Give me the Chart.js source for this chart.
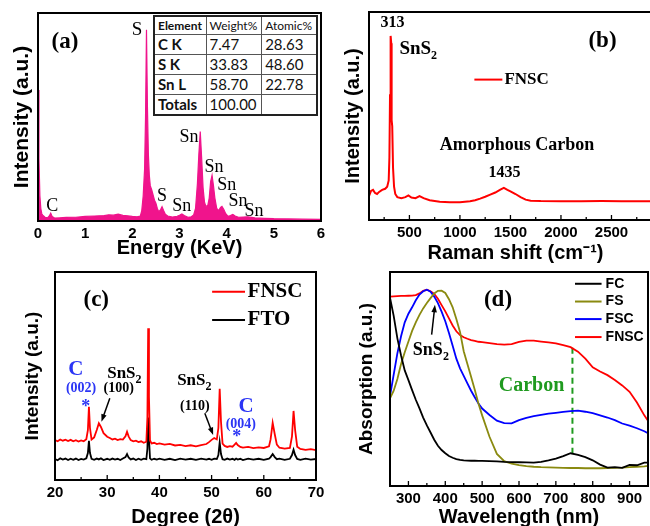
<!DOCTYPE html>
<html>
<head>
<meta charset="utf-8">
<script src="https://cdn.jsdelivr.net/npm/chart.js@4.4.1/dist/chart.umd.min.js"></script>
<style>
  body { margin: 0; background: #fff; }
  #fig { position: relative; width: 650px; height: 526px; overflow: hidden; background: #fff; }
  #fig canvas { position: absolute; }
  #edsTable {
    position: absolute; left: 153px; top: 15px; width: 165px; height: 101px;
    border-collapse: collapse; border: 2px solid #222; background: #fff;
    font-family: Lato, "Liberation Sans", sans-serif; color: #111;
  }
  #edsTable td { border: 1px solid #555; padding: 0 0 0 3px; font-size: 15px; line-height: 1; }
  #edsTable tr.head td { font-size: 12px; height: 17px; }
  #edsTable td.name { font-weight: bold; }
</style>
</head>
<body>
<div id="fig">
  <canvas id="chartA"></canvas>
  <canvas id="chartB"></canvas>
  <canvas id="chartC"></canvas>
  <canvas id="chartD"></canvas>
  <table id="edsTable"></table>
</div>
<script>
// ---- (a) EDS spectrum ----
const energyKeV = [0, 0.02, 0.04, 0.06, 0.08, 0.1, 0.15, 0.2, 0.24, 0.27, 0.3, 0.35, 0.45, 0.6, 0.8, 1.0, 1.2, 1.4, 1.5, 1.6,
  1.7, 1.8, 1.9, 2.0, 2.1, 2.17, 2.2, 2.23, 2.26, 2.28, 2.3, 2.32, 2.34, 2.36, 2.38, 2.41, 2.44, 2.47, 2.5, 2.53,
  2.56, 2.6, 2.63, 2.66, 2.7, 2.75, 2.85, 2.95, 3.0, 3.05, 3.1, 3.18, 3.25, 3.3, 3.34, 3.38, 3.41, 3.44, 3.47, 3.5,
  3.53, 3.56, 3.6, 3.63, 3.66, 3.69, 3.72, 3.75, 3.79, 3.83, 3.87, 3.9, 3.94, 3.98, 4.03, 4.08, 4.13, 4.18, 4.25, 4.35,
  4.45, 4.6, 4.8, 5.0, 5.3, 5.6, 6.0];
const edsCounts = [63, 30, 12, 6, 3.5, 2.8, 1.8, 1.5, 2.4, 3.8, 2.2, 1.4, 1.5, 1.7, 1.8, 2.2, 2.4, 2.6, 3.0, 2.8,
  3.3, 2.7, 2.5, 2.2, 2.0, 2.4, 5, 12, 25, 50, 92, 55, 32, 22, 17, 15, 12.5, 10, 8.5, 6,
  4.5, 5.5, 6.9, 5.2, 3.2, 2.4, 1.9, 2.3, 2.8, 3.4, 2.6, 1.8, 2.0, 2.9, 6, 18, 32, 43, 30, 16,
  9, 7, 7.5, 11, 19, 22, 17, 11, 6, 5, 6.5, 7, 5.5, 3.5, 2.2, 2.6, 3.2, 2.4, 1.8, 1.9,
  2.0, 1.5, 1.3, 1.1, 1.0, 0.9, 0.8];
const energyTicks = [0, 1, 2, 3, 4, 5, 6];

const tableHeader = ['Element', 'Weight%', 'Atomic%'];
const elements = ['C K', 'S K', 'Sn L', 'Totals'];
const weightPct = ['7.47', '33.83', '58.70', '100.00'];
const atomicPct = ['28.63', '48.60', '22.78', ''];

// ---- (b) Raman ----
const ramanShift = [100, 120, 140, 160, 180, 200, 230, 260, 280, 295, 302, 308, 312, 316, 320, 324, 330, 338, 348, 360,
  380, 420, 460, 490, 520, 560, 600, 640, 700, 800, 900, 1000, 1100, 1150, 1200, 1250, 1300, 1350, 1400, 1435,
  1470, 1500, 1550, 1600, 1650, 1700, 1800, 2000, 2200, 2400, 2600, 2800, 3000];
const ramanFNSC = [11.5, 14, 14.5, 13, 12.5, 13.5, 14.5, 15, 16, 19, 30, 60, 80, 88.5, 85, 48, 45, 25, 16, 12.5,
  11, 10.5, 11, 11.8, 10.8, 10.5, 11.5, 10.5, 9.5, 8.8, 8.5, 8.5, 9, 9.5, 10.3, 11.2, 12.2, 13.2, 14.6, 15.4,
  14.5, 13.8, 12.5, 11, 9.8, 9.3, 9.1, 9, 9, 9.1, 9, 9, 9];
const ramanTicks = [500, 1000, 1500, 2000, 2500];
const ramanMinor = [250, 750, 1250, 1750, 2250, 2750];

// ---- (c) XRD ----
const twoTheta = [20, 20.5, 21, 21.5, 22, 22.5, 23, 23.5, 24, 24.5, 25, 25.5, 26, 26.3, 26.5, 26.7, 27, 27.5, 28, 28.4,
  28.8, 29.3, 30, 30.5, 31, 31.5, 32, 32.5, 33, 33.5, 33.8, 34.1, 34.5, 35, 35.5, 36, 36.5, 37, 37.5, 37.7,
  37.85, 38, 38.2, 38.5, 39, 39.5, 40, 41, 42, 43, 44, 45, 46, 47, 48, 49, 49.5, 50, 50.5, 51,
  51.3, 51.55, 51.8, 52.1, 52.5, 53, 53.5, 54, 54.4, 54.7, 55, 55.5, 56, 57, 58, 59, 60, 61, 61.3, 61.7,
  62.1, 62.5, 63, 64, 65, 65.4, 65.7, 66, 66.4, 67, 68, 69, 70];
const xrdFNSC = [19.2, 18.6, 19.5, 18.9, 19.4, 18.7, 19.3, 18.6, 19.1, 18.5, 19.0, 18.6, 19.6, 24, 35.2, 25, 19.5, 20.5, 24, 27.3,
  25.5, 22.5, 20.8, 20.2, 19.5, 19.9, 19.2, 19.6, 19.4, 21, 23.2, 21, 19.2, 18.6, 18.9, 18.2, 18.6, 17.9, 18.4, 30,
  73, 40, 19, 17.6, 17.9, 17.3, 17.6, 17.0, 17.4, 16.6, 16.9, 16.3, 16.7, 16.2, 16.8, 17.3, 18.2, 19.3, 20.2, 19.5,
  25, 43.8, 28, 17.5, 16.4, 15.9, 16.3, 16.0, 17.0, 17.8, 16.8, 15.9, 15.6, 15.9, 15.3, 15.7, 15.4, 16.2, 19.5, 27.5,
  22, 17, 15.5, 15.1, 15.4, 21, 33.2, 24, 16, 14.9, 14.5, 14.8, 14.4];
const xrdFTO = [10.1, 9.5, 10.4, 9.8, 10.3, 9.6, 10.2, 9.7, 10.3, 9.6, 10.1, 9.8, 10.4, 13, 18.8, 13, 10.2, 9.7, 10.3, 9.9,
  10.4, 9.6, 10.2, 9.7, 10.3, 9.8, 10.2, 9.6, 10.3, 11, 12.5, 10.8, 9.9, 10.3, 9.6, 10.2, 9.7, 10.3, 10.0, 15,
  30, 20, 10.4, 9.7, 10.2, 9.8, 10.3, 9.7, 10.2, 9.6, 10.3, 9.8, 10.2, 9.7, 10.3, 9.8, 10.2, 9.7, 10.3, 10.1,
  12, 18, 12.5, 10, 9.7, 10.3, 9.8, 10.2, 9.7, 10.3, 9.8, 10.2, 9.6, 10.3, 9.8, 10.2, 9.7, 10.3, 11, 12.5,
  11, 10, 10.3, 9.7, 10.2, 12, 14.6, 12, 10.1, 9.7, 10.3, 9.8, 10.1];
const xrdTicks = [20, 30, 40, 50, 60, 70];
const xrdMajor = [30, 40, 50, 60];
const xrdMinor = [25, 35, 45, 55, 65];

// ---- (d) UV-vis absorption ----
const wavelength = [250, 260, 270, 280, 290, 300, 310, 320, 330, 340, 350, 360, 370, 380, 390, 400, 410, 420, 430, 440,
  450, 460, 470, 480, 490, 500, 520, 540, 560, 580, 600, 620, 640, 660, 680, 700, 720, 740, 760, 780,
  800, 820, 840, 860, 880, 900, 920, 940, 950];
const absFC = [88, 79.5, 69, 61, 54, 49.5, 44.8, 40.3, 36.3, 32, 28.3, 25, 21.6, 18.8, 16.8, 15.3, 14, 13.2, 12.6, 12.2,
  12, 11.9, 11.8, 11.8, 11.7, 11.7, 11.6, 11.5, 11.3, 11.2, 11.1, 11, 10.9, 11.3, 12, 12.8, 14, 15.3, 14.5, 13.5,
  12, 10, 8.6, 8.8, 8.5, 9.8, 9.7, 10.9, 10.9];
const absFS = [41, 44.5, 50, 57, 62.5, 67.5, 72.5, 76.5, 80, 83, 85.5, 87.8, 90, 91.2, 91.3, 90.2, 87.3, 83.5, 78, 72,
  63, 57, 51, 45, 38.5, 33, 23, 15, 11.6, 10.4, 9.8, 9.3, 9, 8.8, 8.7, 8.6, 8.5, 8.4, 8.4, 8.3,
  8.3, 8.3, 8.4, 8.5, 8.6, 8.8, 9, 9.2, 9.4];
const absFSC = [42, 52, 62, 70, 76.5, 80.5, 83.5, 86.8, 89.5, 91, 91.7, 90.8, 88.5, 85.5, 81.5, 77, 71.5, 65.5, 59.5, 55,
  51.5, 48, 44.5, 41.5, 38.5, 36.2, 33.2, 30.5, 29.4, 29.3, 30.8, 31.8, 32.6, 33.2, 33.8, 34.2, 34.6, 35, 35.2, 34.7,
  34, 33, 32, 30.8, 29.2, 28.2, 27, 25.6, 24.7];
const absFNSC = [88.5, 88.6, 88.7, 88.8, 88.8, 88.9, 89, 89.2, 90, 91.2, 91.7, 91, 89.8, 87.5, 84.5, 81.6, 78.3, 75, 72.3, 70.5,
  69.5, 68.8, 68.2, 67.8, 67.4, 67.2, 66.8, 66.3, 66.1, 66.3, 67.3, 67.9, 67.9, 67.5, 67.1, 66.6, 65.8, 64.9, 62.8, 59.5,
  55.5, 53.5, 51.8, 49.5, 47, 44, 39, 33, 30.5];
const carbonMarkX = [745, 745];
const carbonMarkY = [64.6, 13.7];
const wlTicks = [300, 400, 500, 600, 700, 800, 900];
const wlMinor = [350, 450, 550, 650, 750, 850];

// ---------------------------------------------------------------
const sans = 'Liberation Sans', serif = 'Liberation Serif';
const tb = s => `bold ${s}px "${serif}"`;
const tn = s => `${s}px "${serif}"`;
const ab = s => `bold ${s}px "${sans}"`;

// EDS table from the arrays
const tbl = document.getElementById('edsTable');
let html = '<tr class="head">' + tableHeader.map((h, i) => `<td${i === 0 ? ' class="name"' : ''}>${h}</td>`).join('') + '</tr>';
elements.forEach((el, i) => {
  html += `<tr><td class="name">${el}</td><td>${weightPct[i]}</td><td>${atomicPct[i]}</td></tr>`;
});
tbl.innerHTML = html;

function series(label, xs, ys, color, width, extra) {
  return Object.assign({
    label, data: xs.map((x, i) => ({ x, y: ys[i] })),
    borderColor: color, backgroundColor: color, borderWidth: width,
    pointRadius: 0, tension: 0, fill: false
  }, extra || {});
}

function xAxis(min, max, tickVals, title, height, size) {
  return {
    type: 'linear', min, max,
    afterBuildTicks: s => { s.ticks = tickVals.map(v => ({ value: v })); },
    afterFit: s => { s.height = height; },
    grid: { display: false, drawTicks: false },
    border: { display: false },
    ticks: { color: '#000', padding: 4, maxRotation: 0, autoSkip: false,
             font: { family: sans, size: 15, weight: 'bold' }, callback: v => String(v) },
    title: { display: true, text: title, color: '#000', padding: 0,
             font: { family: sans, size, weight: 'bold' } }
  };
}

function yAxis(title, width, pad, size) {
  return {
    type: 'linear', min: 0, max: 100,
    afterFit: s => { s.width = width; },
    grid: { display: false, drawTicks: false },
    border: { display: false },
    ticks: { display: false },
    title: { display: true, text: title, color: '#000', padding: { top: pad, bottom: 0 },
             font: { family: sans, size, weight: 'bold' } }
  };
}

function drawLabel(ctx, px, py, a) {
  ctx.font = a.font;
  ctx.fillStyle = a.color || '#000';
  ctx.textBaseline = 'middle';
  ctx.textAlign = 'left';
  const mainW = ctx.measureText(a.text).width;
  let subW = 0;
  const subSize = a.subSize || 12;
  if (a.sub) {
    ctx.font = a.font.replace(/\d+px/, subSize + 'px');
    subW = ctx.measureText(a.sub).width;
    ctx.font = a.font;
  }
  const left = a.align === 'left' ? px : px - (mainW + subW) / 2;
  ctx.fillText(a.text, left, py);
  if (a.sub) {
    ctx.font = a.font.replace(/\d+px/, subSize + 'px');
    ctx.fillText(a.sub, left + mainW, py + subSize * 0.55);
  }
}

// frame, inward ticks, arrows, legend and labels
function deco(spec) {
  return {
    id: 'deco',
    afterDatasetsDraw(chart) {
      const { ctx, chartArea: a, scales: { x, y } } = chart;
      ctx.save();
      ctx.strokeStyle = '#000';
      ctx.lineWidth = 1.3;
      const tick = (v, len) => {
        const px = x.getPixelForValue(v);
        ctx.beginPath(); ctx.moveTo(px, a.bottom); ctx.lineTo(px, a.bottom - len); ctx.stroke();
      };
      (spec.major || []).forEach(v => tick(v, 5));
      (spec.minor || []).forEach(v => tick(v, 3));
      ctx.lineWidth = 2;
      ctx.strokeRect(a.left, a.top, a.right - a.left, a.bottom - a.top);

      (spec.arrows || []).forEach(ar => {
        const x1 = x.getPixelForValue(ar.from[0]), y1 = y.getPixelForValue(ar.from[1]);
        const x2 = x.getPixelForValue(ar.to[0]), y2 = y.getPixelForValue(ar.to[1]);
        const ang = Math.atan2(y2 - y1, x2 - x1);
        ctx.strokeStyle = '#000'; ctx.fillStyle = '#000'; ctx.lineWidth = 1.5;
        ctx.beginPath(); ctx.moveTo(x1, y1);
        ctx.lineTo(x2 - 5 * Math.cos(ang), y2 - 5 * Math.sin(ang)); ctx.stroke();
        ctx.beginPath();
        ctx.moveTo(x2, y2);
        ctx.lineTo(x2 - 8 * Math.cos(ang - 0.35), y2 - 8 * Math.sin(ang - 0.35));
        ctx.lineTo(x2 - 8 * Math.cos(ang + 0.35), y2 - 8 * Math.sin(ang + 0.35));
        ctx.closePath(); ctx.fill();
      });

      if (spec.legend) {
        const lg = spec.legend;
        lg.items.forEach((di, k) => {
          const ds = chart.data.datasets[di];
          const py = y.getPixelForValue(lg.ys[k]);
          ctx.strokeStyle = ds.borderColor; ctx.lineWidth = lg.lineWidth || 2;
          ctx.beginPath();
          ctx.moveTo(x.getPixelForValue(lg.x0), py); ctx.lineTo(x.getPixelForValue(lg.x1), py);
          ctx.stroke();
          drawLabel(ctx, x.getPixelForValue(lg.xt), py, { text: ds.label, font: lg.font, align: 'left' });
        });
      }

      (spec.labels || []).forEach(l => drawLabel(ctx, x.getPixelForValue(l.x), y.getPixelForValue(l.y), l));
      ctx.restore();
    }
  };
}

function makeChart(id, box, pad, datasets, scales, spec) {
  const cv = document.getElementById(id);
  cv.width = box[2]; cv.height = box[3];
  Object.assign(cv.style, { left: box[0] + 'px', top: box[1] + 'px', width: box[2] + 'px', height: box[3] + 'px' });
  return new Chart(cv.getContext('2d'), {
    type: 'line',
    data: { datasets },
    options: {
      responsive: false, animation: false, events: [],
      layout: { padding: { left: 0, top: pad[0], right: pad[1], bottom: 0 } },
      plugins: { legend: { display: false }, tooltip: { enabled: false } },
      scales
    },
    plugins: [deco(spec)]
  });
}

const pink = '#f0148c', red = '#ff0000', blue = '#0000ff', olive = '#8a8a10', green = '#1f9a1f', cBlue = '#2b35f5';

// (a)
makeChart('chartA', [0, 0, 330, 260], [13, 9],
  [series('EDS', energyKeV, edsCounts, pink, 1.2, { fill: 'origin' })],
  { x: xAxis(0, 6, energyTicks, 'Energy (KeV)', 39, 20), y: yAxis('Intensity (a.u.)', 38, 10, 21) },
  { labels: [
    { text: '(a)', x: 0.57, y: 86, font: tb(23) },
    { text: 'S', x: 2.10, y: 91.8, font: tn(19) },
    { text: 'C', x: 0.30, y: 7.2, font: tn(18) },
    { text: 'S', x: 2.63, y: 12, font: tn(18) },
    { text: 'Sn', x: 3.05, y: 7.2, font: tn(18) },
    { text: 'Sn', x: 3.2, y: 40.4, font: tn(18) },
    { text: 'Sn', x: 3.73, y: 26, font: tn(18) },
    { text: 'Sn', x: 4.0, y: 17.3, font: tn(18) },
    { text: 'Sn', x: 4.24, y: 9.6, font: tn(18) },
    { text: 'Sn', x: 4.58, y: 4.8, font: tn(18) }
  ] });

// (b)
makeChart('chartB', [325, 0, 345, 265], [12, 8],
  [series('FNSC', ramanShift, ramanFNSC, red, 2)],
  { x: xAxis(100, 3000, ramanTicks, 'Raman shift (cm\u207B\u00B9)', 45, 20), y: yAxis('Intensity (a.u.)', 44, 16, 20) },
  { major: ramanTicks, minor: ramanMinor,
    legend: { items: [0], x0: 1143, x1: 1420, xt: 1440, ys: [67.5], font: tb(17) },
    labels: [
      { text: '313', x: 332, y: 95, font: tb(16) },
      { text: 'SnS', sub: '2', subSize: 12, x: 401, y: 82, font: tb(19), align: 'left' },
      { text: 'Amorphous Carbon', x: 1564, y: 35.8, font: tb(18) },
      { text: '1435', x: 1440, y: 22.5, font: tb(16) },
      { text: '(b)', x: 2411, y: 86, font: tb(23) }
    ] });

// (c)
makeChart('chartC', [0, 262, 330, 267], [10, 14],
  [series('FNSC', twoTheta, xrdFNSC, red, 1.8), series('FTO', twoTheta, xrdFTO, '#000', 1.8)],
  { x: xAxis(20, 70, xrdTicks, 'Degree (2\u03B8)', 49, 20), y: yAxis('Intensity (a.u.)', 55, 21, 19) },
  { major: xrdMajor, minor: xrdMinor,
    legend: { items: [0, 1], x0: 50.1, x1: 56.4, xt: 56.9, ys: [90.5, 76.9], font: tb(21) },
    arrows: [ { from: [30.5, 39.3], to: [28.9, 28.0] }, { from: [48.7, 32.1], to: [50.3, 21.6] } ],
    labels: [
      { text: '(c)', x: 27.9, y: 86.5, font: tb(23) },
      { text: 'C', x: 24.0, y: 52.9, font: tb(21), color: cBlue },
      { text: '(002)', x: 25.0, y: 44, font: tb(14), color: cBlue },
      { text: '*', x: 25.9, y: 35, font: tb(18), color: cBlue },
      { text: 'SnS', sub: '2', subSize: 12, x: 30.0, y: 51.3, font: tb(17), align: 'left' },
      { text: '(100)', x: 32.2, y: 44, font: tb(14) },
      { text: 'SnS', sub: '2', subSize: 12, x: 43.4, y: 48, font: tb(17), align: 'left' },
      { text: '(110)', x: 46.8, y: 35.2, font: tb(14) },
      { text: 'C', x: 56.6, y: 35.2, font: tb(21), color: cBlue },
      { text: '(004)', x: 55.6, y: 26.8, font: tb(14), color: cBlue },
      { text: '*', x: 54.8, y: 20.6, font: tb(18), color: cBlue }
    ] });

// (d)
makeChart('chartD', [325, 262, 325, 267], [10, 2],
  [series('FC', wavelength, absFC, '#000', 1.8), series('FS', wavelength, absFS, olive, 1.8),
   series('FSC', wavelength, absFSC, blue, 1.8), series('FNSC', wavelength, absFNSC, red, 1.8),
   series('Carbon', carbonMarkX, carbonMarkY, green, 2, { borderDash: [6, 4] })],
  { x: xAxis(250, 950, wlTicks, 'Wavelength (nm)', 43, 20), y: yAxis('Absorption (a.u.)', 65, 30, 19) },
  { major: wlTicks, minor: wlMinor,
    legend: { items: [0, 1, 2, 3], x0: 752, x1: 824, xt: 835, ys: [94.5, 86.2, 78, 69.6], font: ab(14) },
    arrows: [ { from: [363, 70.7], to: [372, 84.7] } ],
    labels: [
      { text: '(d)', x: 543, y: 87, font: tb(23) },
      { text: 'SnS', sub: '2', subSize: 12, x: 312, y: 63.6, font: tb(18), align: 'left' },
      { text: 'Carbon', x: 634, y: 46.8, font: tb(20), color: green }
    ] });
</script>
</body>
</html>
